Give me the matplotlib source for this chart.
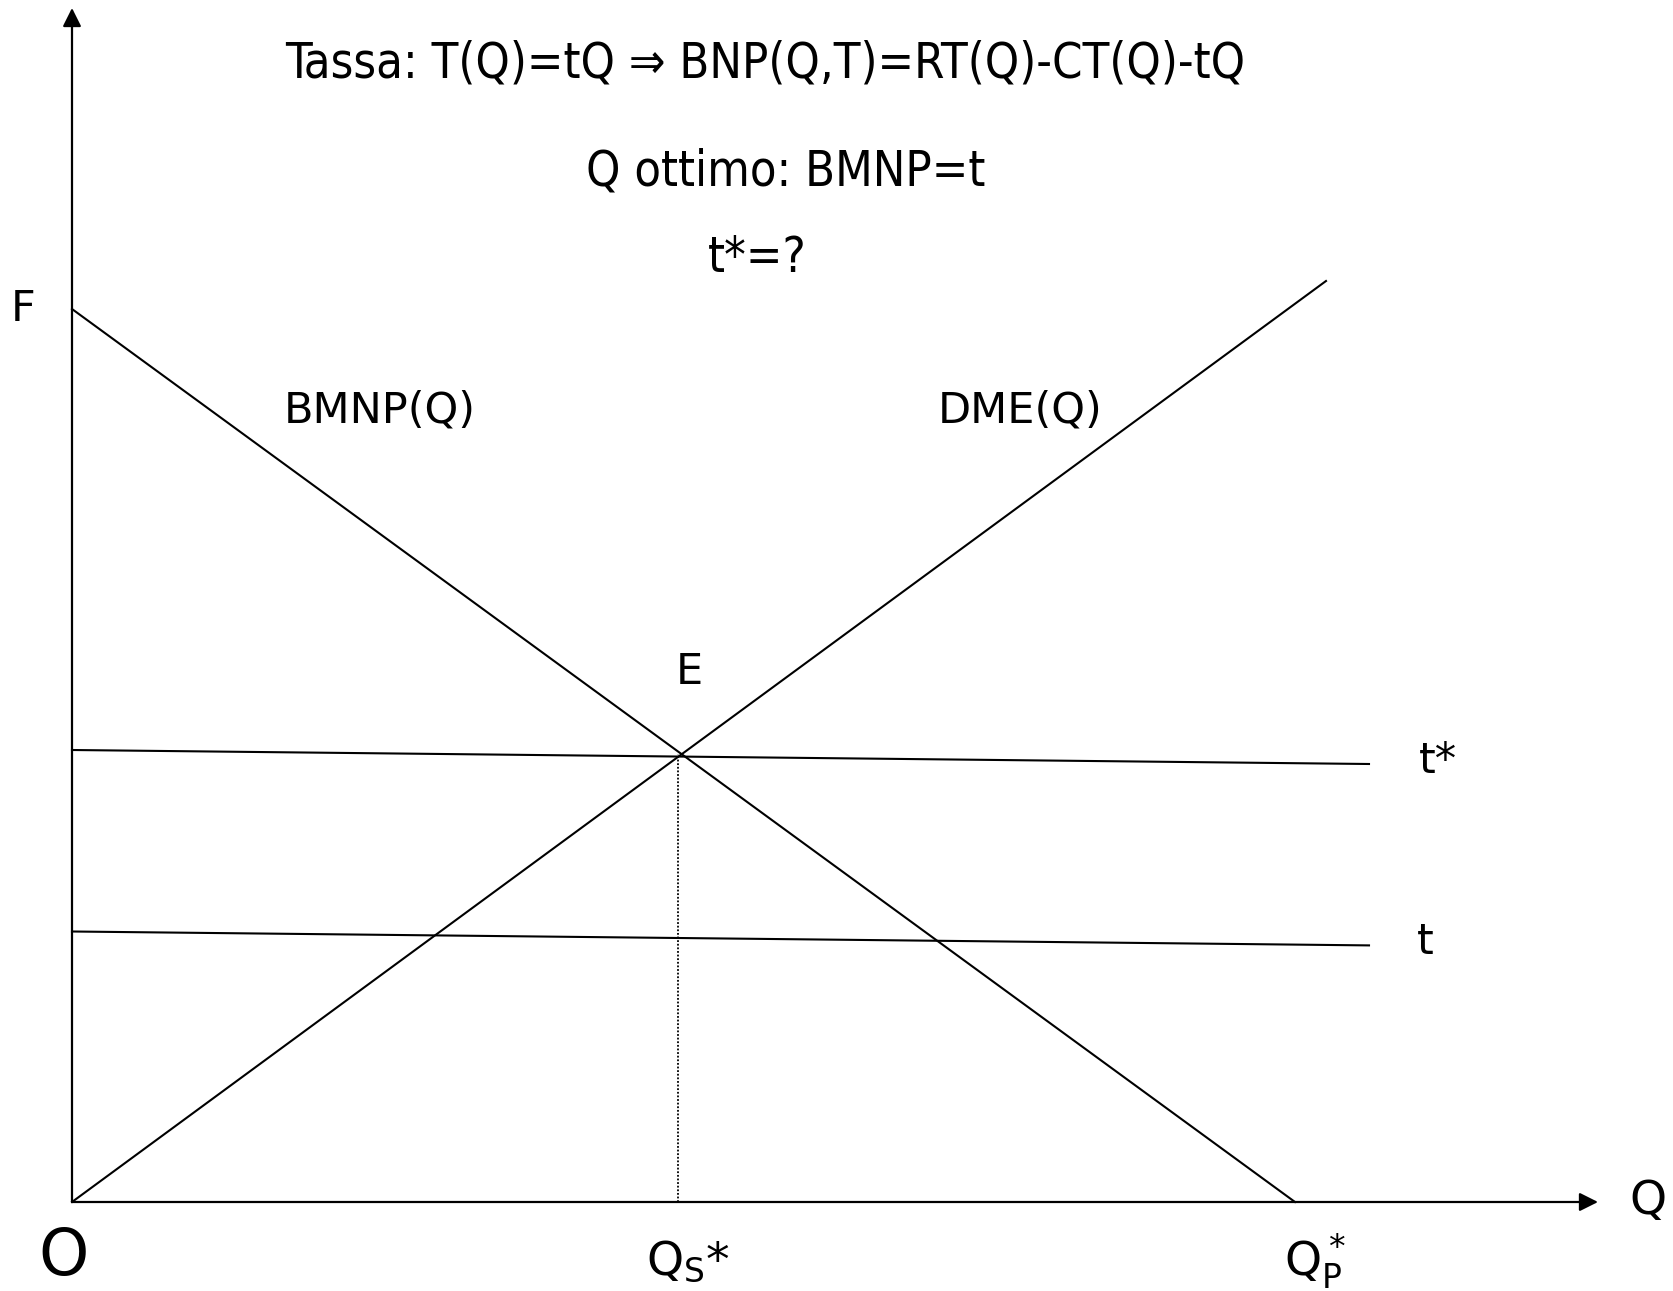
import matplotlib
matplotlib.use("Agg")
import matplotlib.pyplot as plt

# Economic quantities (arbitrary units): marginal net private benefit,
# marginal external damage and the two tax levels.
BMNP_Q = [0.0, 12.23]
BMNP_F = [8.93, 0.0]
DME_Q = [0.0, 12.54]
DME_F = [0.0, 9.21]
TSTAR_Q = [0.0, 12.97]
TSTAR_F = [4.52, 4.38]
T_Q = [0.0, 12.97]
T_F = [2.705, 2.566]
Q_SOCIAL = 6.06
E_LEVEL = 4.48
Q_AXIS_END = 15.26
F_AXIS_END = 11.94

TITLE_LINES = [
    "Tassa: T(Q)=tQ \u21d2 BNP(Q,T)=RT(Q)-CT(Q)-tQ",
    "Q ottimo: BMNP=t",
    "t*=?",
]


def draw_axes_arrows(ax):
    style = dict(arrowstyle="-|>", mutation_scale=28, lw=1.6, color="black",
                 shrinkA=0, shrinkB=0)
    ax.annotate("", xy=(Q_AXIS_END, 0), xytext=(0, 0), arrowprops=style)
    ax.annotate("", xy=(0, F_AXIS_END), xytext=(0, 0), arrowprops=style)


def main():
    plt.rcParams["font.family"] = ["DejaVu Sans"]
    fig = plt.figure(figsize=(16.73, 12.91), dpi=100)
    ax = fig.add_axes([0, 0, 1, 1])
    ax.set_xlim(-0.72, 16.01)
    ax.set_ylim(-0.89, 12.02)
    ax.axis("off")

    draw_axes_arrows(ax)

    line = dict(color="black", lw=1.5)
    ax.plot(BMNP_Q, BMNP_F, **line)
    ax.plot(DME_Q, DME_F, **line)
    ax.plot(TSTAR_Q, TSTAR_F, **line)
    ax.plot(T_Q, T_F, **line)
    ax.plot([Q_SOCIAL, Q_SOCIAL], [0, E_LEVEL], color="black", lw=1.3,
            linestyle=(0, (1, 1)))

    lab = dict(fontsize=31, ha="center", va="center")
    ax.text(-0.49, 8.93, "F", **lab)
    ax.text(3.08, 7.91, "BMNP(Q)", **lab)
    ax.text(9.48, 7.91, "DME(Q)", **lab)
    ax.text(6.17, 5.30, "E", **lab)
    ax.text(13.66, 4.41, "t*", **lab)
    ax.text(13.53, 2.60, "t", **lab)

    bot = dict(fontsize=34, ha="center", va="center")
    ax.text(15.76, 0.0, "Q", **bot)
    ax.text(6.16, -0.60, r"Q$\mathregular{_S}$*", **bot)
    ax.text(12.43, -0.60, r"$\mathregular{Q_P^*}$", **bot)
    ax.text(-0.08, -0.55, "O", fontsize=46, ha="center", va="center")

    top = dict(fontsize=35, ha="center", va="center", fontstretch="condensed")
    ax.text(6.93, 11.38, TITLE_LINES[0], **top)
    ax.text(7.14, 10.31, TITLE_LINES[1], **top)
    ax.text(6.85, 9.44, TITLE_LINES[2], **top)

    fig.savefig("out.png", dpi=100, facecolor="white")


if __name__ == "__main__":
    main()
